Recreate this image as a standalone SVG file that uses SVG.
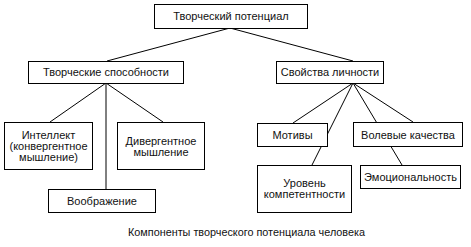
<svg xmlns="http://www.w3.org/2000/svg" width="471" height="247" viewBox="0 0 471 247">
<style>
.box{fill:#fff;stroke:#000;stroke-width:1}
.ln{stroke:#000;stroke-width:1;fill:none}
text{font-family:"Liberation Sans",Arial,sans-serif;font-size:11px;fill:#111;text-anchor:middle}
.cap{font-family:"Liberation Sans Narrow","Liberation Sans",Arial,sans-serif;font-size:11.5px}
</style>
<rect width="471" height="247" fill="#fff"/>
<g id="connectors">
<line class="ln" x1="230" y1="28" x2="107" y2="61"/>
<line class="ln" x1="230" y1="28" x2="353" y2="61"/>
<line class="ln" x1="106" y1="83" x2="50" y2="122"/>
<line class="ln" x1="106" y1="83" x2="106" y2="189"/>
<line class="ln" x1="106" y1="83" x2="163" y2="122"/>
<line class="ln" x1="353" y1="83" x2="293" y2="123"/>
<line class="ln" x1="353" y1="83" x2="312" y2="165"/>
<line class="ln" x1="353" y1="83" x2="402" y2="165"/>
<line class="ln" x1="353" y1="83" x2="413" y2="122"/>
</g>
<g id="n-top"><rect class="box" x="154.5" y="4.5" width="153" height="24"/><text x="231" y="20">Творческий потенциал</text></g>
<g id="n-ability"><rect class="box" x="28.5" y="61.5" width="155" height="22"/><text x="106" y="76">Творческие способности</text></g>
<g id="n-personality"><rect class="box" x="276.5" y="61.5" width="107" height="22"/><text x="330" y="76">Свойства личности</text></g>
<g id="n-intellect"><rect class="box" x="4.5" y="122.5" width="88" height="47"/><text x="48.5" y="139">Интеллект</text><text x="48.5" y="150">(конвергентное</text><text x="48.5" y="161">мышление)</text></g>
<g id="n-divergent"><rect class="box" x="117.5" y="122.5" width="87" height="47"/><text x="161" y="145">Дивергентное</text><text x="161" y="156">мышление</text></g>
<g id="n-imagination"><rect class="box" x="48.5" y="189.5" width="107" height="23"/><text x="102" y="205">Воображение</text></g>
<g id="n-motives"><rect class="box" x="257.5" y="123.5" width="70" height="23"/><text x="292.5" y="139">Мотивы</text></g>
<g id="n-will"><rect class="box" x="353.5" y="122.5" width="109" height="24"/><text x="408" y="139">Волевые качества</text></g>
<g id="n-competence"><rect class="box" x="257.5" y="165.5" width="94" height="47"/><text x="304.5" y="187">Уровень</text><text x="304.5" y="198">компетентности</text></g>
<g id="n-emotion"><rect class="box" x="360.5" y="165.5" width="100" height="23"/><text x="410.5" y="181">Эмоциональность</text></g>
<text class="cap" x="246.5" y="236" textLength="237" lengthAdjust="spacingAndGlyphs">Компоненты творческого потенциала человека</text>
</svg>
